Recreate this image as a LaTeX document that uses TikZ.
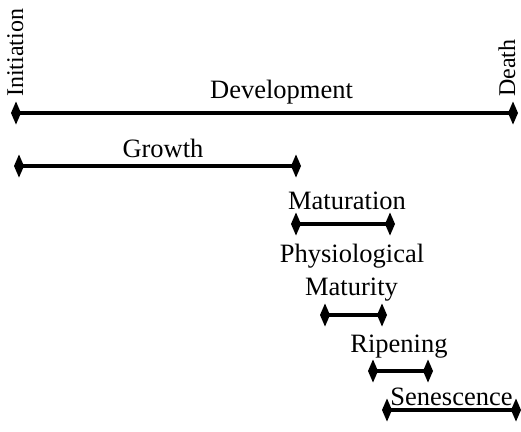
\documentclass[tikz,border=0pt]{standalone}
\usepackage{fontspec}
\setmainfont{Liberation Serif}
\usetikzlibrary{arrows.meta}
\tikzset{
  phase/.style={line width=4.6pt,{Diamond[length=10pt,width=23pt]}-{Diamond[length=10pt,width=23pt]}},
  lbl/.style={anchor=base,inner sep=0pt,font=\fontsize{26.5}{29}\selectfont},
  vlbl/.style={anchor=base west,inner sep=0pt,text depth=0pt,rotate=90,font=\fontsize{24}{26}\selectfont},
}
\begin{document}
\begin{tikzpicture}[x=1pt,y=-1pt]
\useasboundingbox (0,0) rectangle (521,431);
% end points
\coordinate (devL) at (11,113);
\coordinate (devR) at (518,113);
\coordinate (groL) at (14,166);
\coordinate (groR) at (301,166);
\coordinate (matL) at (291,224);
\coordinate (matR) at (395,224);
\coordinate (pmL) at (320,315);
\coordinate (pmR) at (387,315);
\coordinate (ripL) at (368,371);
\coordinate (ripR) at (433,371);
\coordinate (senL) at (382,410);
\coordinate (senR) at (521,410);
% bars
\draw[phase] (devL) -- (devR);
\draw[phase] (groL) -- (groR);
\draw[phase] (matL) -- (matR);
\draw[phase] (pmL) -- (pmR);
\draw[phase] (ripL) -- (ripR);
\draw[phase] (senL) -- (senR);
% labels
\node[vlbl] (init) at (23,97) {Initiation};
\node[vlbl] (death) at (515,97) {Death};
\node[lbl] (dev) at (281.5,98) {Development};
\node[lbl] (gro) at (163,157) {Growth};
\node[lbl] (mat) at (347,209) {Maturation};
\node[lbl] (phys) at (352,262) {Physiological};
\node[lbl] (matu) at (351.5,295) {Maturity};
\node[lbl] (rip) at (399,352) {Ripening};
\node[lbl] (sen) at (451.5,405) {Senescence};
\end{tikzpicture}
\end{document}
